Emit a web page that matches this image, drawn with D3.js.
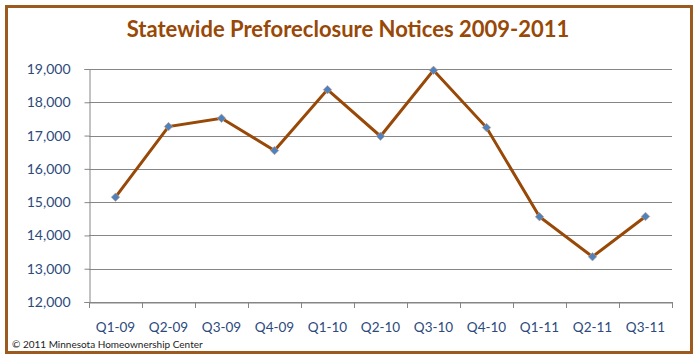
<!DOCTYPE html>
<html><head><meta charset="utf-8">
<script src="https://cdn.jsdelivr.net/npm/d3@7"></script>
<style>body{margin:0;background:#fff}svg{display:block}</style>
</head><body><svg id="c" width="699" height="361"></svg>
<script>
const categories = ["Q1-09","Q2-09","Q3-09","Q4-09","Q1-10","Q2-10","Q3-10","Q4-10","Q1-11","Q2-11","Q3-11"];
const notices = [15150,17270,17520,16550,18380,16980,18960,17240,14560,13360,14570];
const yTicks = [12000,13000,14000,15000,16000,17000,18000,19000];
const title = "Statewide Preforeclosure Notices 2009-2011";
const credit = "© 2011 Minnesota Homeownership Center";

const svg = d3.select("#c");
const brown = "#984807", blue = "#4F81BD", lab = "#2C4A7C";
const m = {l:89, r:672, t:69, b:302};

svg.append("rect").attr("x",6.5).attr("y",6.5).attr("width",685).attr("height",346)
  .attr("fill","#fff").attr("stroke","#9C5A1F").attr("stroke-width",3);

const x = d3.scaleBand().domain(categories).range([m.l,m.r]);
const y = d3.scaleLinear().domain([12000,19000]).range([m.b,m.t]);

svg.append("g").selectAll("line").data(yTicks).join("line")
  .attr("x1",m.l).attr("x2",m.r).attr("y1",d=>Math.round(y(d))+0.5).attr("y2",d=>Math.round(y(d))+0.5)
  .attr("stroke","#868686").attr("stroke-width",1);

const ya = svg.append("g").attr("transform",`translate(${m.l+0.5},0)`)
  .call(d3.axisLeft(y).tickValues(yTicks).tickFormat(d3.format(",")).tickSize(5).tickPadding(14));
ya.select(".domain").attr("stroke","#868686");
ya.selectAll(".tick line").attr("stroke","#868686");
ya.selectAll("text").attr("fill",lab).style("font-family","Lato, 'Open Sans', sans-serif").style("font-size","14px");

const xa = svg.append("g").attr("transform",`translate(0,${Math.round(y(12000))+0.5})`)
  .call(d3.axisBottom(x).tickSize(0).tickPadding(20));
xa.select(".domain").attr("stroke","#868686");
xa.selectAll("text").attr("fill",lab).style("font-family","Lato, 'Open Sans', sans-serif").style("font-size","13.5px");
const bounds = categories.map(c=>x(c)).concat([m.r]);
svg.append("g").selectAll("line").data(bounds).join("line")
  .attr("x1",d=>Math.round(d)+0.5).attr("x2",d=>Math.round(d)+0.5)
  .attr("y1",Math.round(y(12000))).attr("y2",Math.round(y(12000))+6)
  .attr("stroke","#868686");

const cx = d=>x(d)+x.bandwidth()/2;
const line = d3.line().x((d,i)=>cx(categories[i])).y(d=>y(d));
svg.append("path").datum(notices).attr("d",line).attr("fill","none")
  .attr("stroke",brown).attr("stroke-width",3).attr("stroke-linejoin","miter");

svg.append("g").selectAll("path").data(notices).join("path")
  .attr("d",d3.symbol(d3.symbolDiamond2,46))
  .attr("transform",(d,i)=>`translate(${cx(categories[i])},${y(d)})`)
  .attr("fill",blue).attr("stroke","#C9A27E").attr("stroke-width",0.6);

svg.append("text").attr("x",348).attr("y",37).attr("text-anchor","middle")
  .attr("fill",brown).style("font-family","Lato, 'Open Sans', sans-serif").style("font-weight","bold").style("font-size","22px")
  .text(title);

svg.append("text").attr("x",12).attr("y",348)
  .attr("fill","#222").style("font-family","Lato, 'Open Sans', sans-serif").style("font-size","10px")
  .text(credit);
</script></body></html>
